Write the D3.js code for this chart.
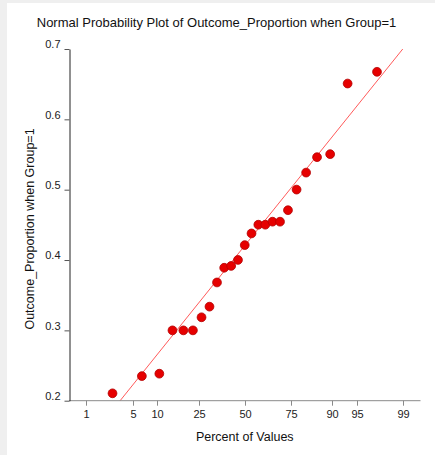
<!DOCTYPE html>
<html>
<head>
<meta charset="utf-8">
<script src="https://cdn.jsdelivr.net/npm/d3@7"></script>
<style>
  html, body { margin: 0; padding: 0; background: #efefef; }
  svg { display: block; }
</style>
</head>
<body>
<svg id="chart" width="435" height="455"></svg>
<script>
// ---- data ----
const values = [0.2105, 0.235, 0.2384, 0.300, 0.300, 0.300, 0.3186, 0.3337, 0.3681, 0.389,
                0.3916, 0.4001, 0.4212, 0.4378, 0.4502, 0.4502, 0.4545, 0.4545, 0.4708, 0.5001,
                0.5243, 0.5462, 0.5505, 0.6509, 0.6676];
const percents = [2.63, 6.58, 10.53, 14.47, 18.42, 22.37, 26.32, 30.26, 34.21, 38.16,
                  42.11, 46.05, 50.00, 53.95, 57.89, 61.84, 65.79, 69.74, 73.68, 77.63,
                  81.58, 85.53, 89.47, 93.42, 97.37];
const xTicks = [1, 5, 10, 25, 50, 75, 90, 95, 99];
const yTicks = [0.2, 0.3, 0.4, 0.5, 0.6, 0.7];
const fitCenter = 0.4205;   // line value at 50%
const fitSpread = 0.1207;   // line slope per normal score
const title = "Normal Probability Plot of Outcome_Proportion when Group=1";
const xLabel = "Percent of Values";
const yLabel = "Outcome_Proportion when Group=1";

// ---- normal quantile ----
function qnorm(p) {
  const a = [-3.969683028665376e+01, 2.209460984245205e+02, -2.759285104469687e+02, 1.383577518672690e+02, -3.066479806614716e+01, 2.506628277459239e+00];
  const b = [-5.447609879822406e+01, 1.615858368580409e+02, -1.556989798598866e+02, 6.680131188771972e+01, -1.328068155288572e+01];
  const c = [-7.784894002430293e-03, -3.223964580411365e-01, -2.400758277161838e+00, -2.549671636585040e+00, 4.374664141464968e+00, 2.938163982698783e+00];
  const d = [7.784695709041462e-03, 3.224671290700398e-01, 2.445134137142996e+00, 3.754408661907416e+00];
  const pl = 0.02425, ph = 1 - pl;
  let q, r;
  if (p < pl) { q = Math.sqrt(-2 * Math.log(p)); return (((((c[0]*q+c[1])*q+c[2])*q+c[3])*q+c[4])*q+c[5]) / ((((d[0]*q+d[1])*q+d[2])*q+d[3])*q+1); }
  if (p <= ph) { q = p - 0.5; r = q*q; return (((((a[0]*r+a[1])*r+a[2])*r+a[3])*r+a[4])*r+a[5])*q / (((((b[0]*r+b[1])*r+b[2])*r+b[3])*r+b[4])*r+1); }
  q = Math.sqrt(-2 * Math.log(1 - p)); return -(((((c[0]*q+c[1])*q+c[2])*q+c[3])*q+c[4])*q+c[5]) / ((((d[0]*q+d[1])*q+d[2])*q+d[3])*q+1);
}

const svg = d3.select("#chart");
svg.append("rect").attr("x", 7).attr("y", 3).attr("width", 428).attr("height", 452).attr("fill", "#fff");

const pLeft = 69, pRight = 420.5, pTop = 49, pBottom = 400.7;
const zMax = qnorm(0.995);
const xz = d3.scaleLinear().domain([-zMax, zMax]).range([pLeft, pRight]);
const xp = p => xz(qnorm(p / 100));
const y = d3.scaleLinear().domain([0.2, 0.7]).range([pBottom, pTop]);

const font = "Arial, 'Liberation Sans', Helvetica, sans-serif";

svg.append("text").attr("x", 216.5).attr("y", 27).attr("text-anchor", "middle")
  .attr("font-family", font).attr("font-size", 13).attr("fill", "#111").text(title);

svg.append("clipPath").attr("id", "plotclip").append("rect")
  .attr("x", pLeft).attr("y", pTop).attr("width", pRight - pLeft).attr("height", pBottom - pTop);

svg.append("line").attr("clip-path", "url(#plotclip)")
  .attr("x1", xz(-zMax)).attr("y1", y(fitCenter - fitSpread * zMax))
  .attr("x2", xz(zMax)).attr("y2", y(fitCenter + fitSpread * zMax))
  .attr("stroke", "#ff5a5a").attr("stroke-width", 1);

const xg = svg.append("g").attr("transform", `translate(0,${pBottom})`);
xg.append("line").attr("x1", pLeft).attr("x2", pRight).attr("y1", 0).attr("y2", 0)
  .attr("stroke", "#8a8a8a").attr("stroke-width", 1);
xTicks.forEach(t => {
  const xx = Math.round(xp(t)) + 0.5;
  xg.append("line").attr("x1", xx).attr("x2", xx).attr("y1", 0).attr("y2", 5).attr("stroke", "#8a8a8a");
  xg.append("text").attr("x", xx).attr("y", 17).attr("text-anchor", "middle")
    .attr("font-family", font).attr("font-size", 11).attr("fill", "#222").text(t);
});

const yAxis = d3.axisLeft(y).tickValues(yTicks).tickFormat(d3.format(".1f")).tickSize(5).tickSizeOuter(0);
const yg = svg.append("g").attr("transform", `translate(${pLeft + 0.5},0)`).call(yAxis);
yg.select(".domain").attr("stroke", "#222");
yg.selectAll(".tick line").attr("stroke", "#555");
yg.selectAll(".tick text").attr("font-family", font).attr("font-size", 11).attr("fill", "#222").attr("x", -9).attr("dy", "-0.1em");

svg.append("text").attr("x", (pLeft + pRight) / 2).attr("y", 441).attr("text-anchor", "middle")
  .attr("font-family", font).attr("font-size", 12.5).attr("fill", "#111").text(xLabel);
svg.append("text").attr("transform", `translate(34,229) rotate(-90)`).attr("text-anchor", "middle")
  .attr("font-family", font).attr("font-size", 12.5).attr("fill", "#111").text(yLabel);

svg.append("g").selectAll("circle").data(values).join("circle")
  .attr("cx", (d, i) => xp(percents[i]))
  .attr("cy", d => y(d))
  .attr("r", 4.4)
  .attr("fill", "#e60000")
  .attr("stroke", "#b30000")
  .attr("stroke-width", 0.8);
</script>
</body>
</html>
